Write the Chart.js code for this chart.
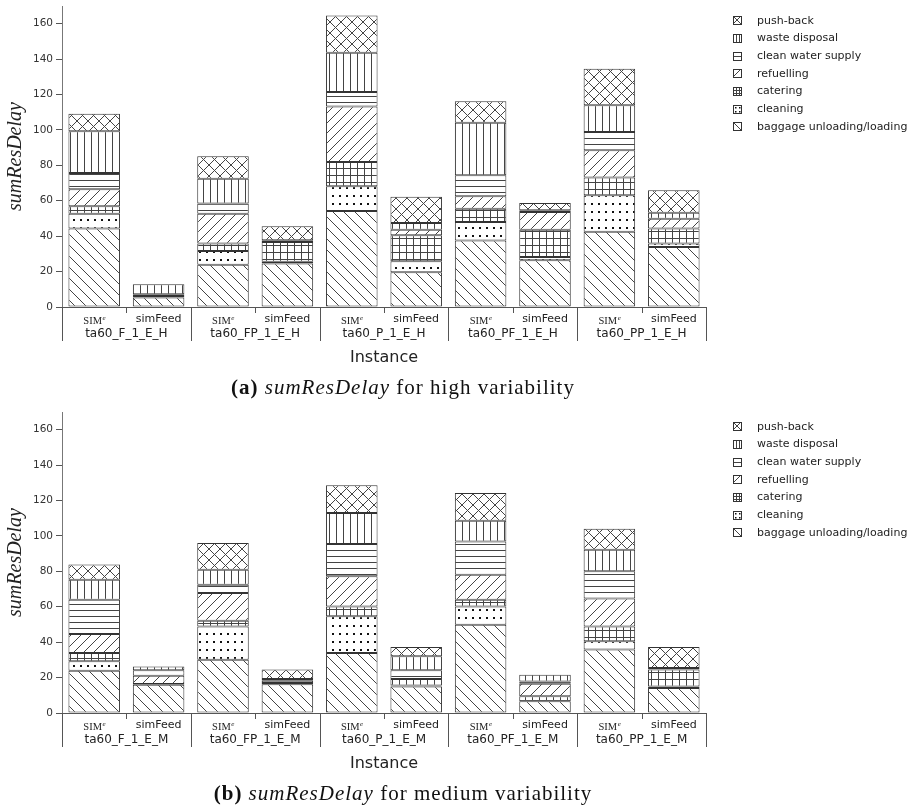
<!DOCTYPE html>
<html>
<head>
<meta charset="utf-8">
<script src="https://cdn.jsdelivr.net/npm/chart.js@4.4.0/dist/chart.umd.min.js"></script>
<style>
  body { margin: 0; background: #fff; }
  canvas { position: absolute; left: 0; }
  #chartHigh { top: 0; }
  #chartMedium { top: 406px; }
</style>
</head>
<body>
<canvas id="chartHigh" width="916" height="404"></canvas>
<canvas id="chartMedium" width="916" height="404"></canvas>
<script>
const instancesHigh = ["ta60_F_1_E_H", "ta60_FP_1_E_H", "ta60_P_1_E_H", "ta60_PF_1_E_H", "ta60_PP_1_E_H"];
const instancesMedium = ["ta60_F_1_E_M", "ta60_FP_1_E_M", "ta60_P_1_E_M", "ta60_PF_1_E_M", "ta60_PP_1_E_M"];
const methods = ["SIM", "simFeed"];
const activities = ["baggage unloading/loading", "cleaning", "catering", "refuelling", "clean water supply", "waste disposal", "push-back"];
const yMax = 170;
const yStep = 20;

// one value per bar: SIM^e, simFeed for each instance
const highBaggage = [44.3, 5.3, 23.9, 24.5, 54.2, 19.6, 37.6, 26.4, 42.5, 33.9];
const highCleaning = [8.4, 0, 7.7, 1.0, 14.0, 6.2, 10.4, 1.8, 20.6, 1.9];
const highCatering = [4.2, 0.9, 4.2, 11.2, 13.7, 14.7, 7.5, 15.5, 10.0, 8.5];
const highRefuelling = [9.6, 0, 16.9, 0, 31.4, 3.2, 7.0, 9.9, 15.4, 5.6];
const highCleanWater = [9.2, 1.0, 5.7, 1.0, 8.1, 0, 11.9, 1.0, 10.3, 0];
const highWaste = [23.5, 5.6, 14.1, 0, 22.2, 3.7, 29.7, 0, 15.1, 3.4];
const highPushBack = [10.0, 0, 12.6, 7.9, 21.1, 14.9, 12.1, 4.1, 20.7, 12.6];

const mediumBaggage = [23.9, 16.0, 30.1, 16.2, 33.9, 15.0, 49.9, 6.6, 35.8, 14.1];
const mediumCleaning = [5.3, 0, 18.8, 0, 20.7, 0.5, 10.3, 0, 4.7, 0.9];
const mediumCatering = [4.7, 0.4, 3.2, 0.8, 5.6, 3.7, 3.8, 2.8, 8.4, 9.5];
const mediumRefuelling = [10.7, 4.7, 15.7, 0, 17.0, 0, 14.1, 7.1, 15.7, 0];
const mediumCleanWater = [19.4, 3.0, 4.7, 1.2, 18.2, 4.9, 18.8, 1.3, 15.4, 0.9];
const mediumWaste = [11.3, 2.2, 8.4, 1.0, 17.5, 7.9, 11.7, 3.8, 12.2, 0];
const mediumPushBack = [8.5, 0, 15.1, 5.3, 15.7, 5.3, 15.6, 0, 11.9, 11.9];

function makePattern(w, h, draw) {
  const c = document.createElement("canvas");
  c.width = w;
  c.height = h;
  const g = c.getContext("2d");
  g.fillStyle = "#fff";
  g.fillRect(0, 0, w, h);
  g.strokeStyle = "#444";
  g.fillStyle = "#111";
  g.lineWidth = 1;
  g.beginPath();
  draw(g, w, h);
  g.stroke();
  return g.createPattern(c, "repeat");
}

function diagDown(g, s) {
  g.moveTo(-1, -1); g.lineTo(s + 1, s + 1);
  g.moveTo(-1, s - 1); g.lineTo(1, s + 1);
  g.moveTo(s - 1, -1); g.lineTo(s + 1, 1);
}

function diagUp(g, s) {
  g.moveTo(-1, s + 1); g.lineTo(s + 1, -1);
  g.moveTo(-1, 1); g.lineTo(1, -1);
  g.moveTo(s - 1, s + 1); g.lineTo(s + 1, s - 1);
}

const patterns = [
  makePattern(11, 11, (g, w) => diagDown(g, w)),
  makePattern(7, 8, (g) => g.fillRect(3, 3, 2, 2)),
  makePattern(7, 7, (g) => { g.moveTo(0.5, 0); g.lineTo(0.5, 7); g.moveTo(0, 0.5); g.lineTo(7, 0.5); }),
  makePattern(10, 10, (g, w) => diagUp(g, w)),
  makePattern(8, 6, (g) => { g.moveTo(0, 0.5); g.lineTo(8, 0.5); }),
  makePattern(7, 8, (g) => { g.moveTo(0.5, 0); g.lineTo(0.5, 8); }),
  makePattern(11, 11, (g, w) => { diagDown(g, w); diagUp(g, w); })
];

// smaller versions of the same hatches for the 9px legend boxes
const iconPatterns = [
  makePattern(8, 8, (g, w) => diagDown(g, w)),
  makePattern(4, 4, (g) => g.fillRect(2, 2, 1.5, 1.5)),
  makePattern(3, 3, (g) => { g.moveTo(0.5, 0); g.lineTo(0.5, 3); g.moveTo(0, 0.5); g.lineTo(3, 0.5); }),
  makePattern(8, 8, (g, w) => diagUp(g, w)),
  makePattern(8, 4, (g) => { g.moveTo(0, 0.5); g.lineTo(8, 0.5); }),
  makePattern(3, 8, (g) => { g.moveTo(0.5, 0); g.lineTo(0.5, 8); }),
  makePattern(8, 8, (g, w) => { diagDown(g, w); diagUp(g, w); })
];

const barLabels = {
  id: "barLabels",
  afterDraw(chart) {
    const { ctx, chartArea, scales: { x } } = chart;
    const base = chartArea.bottom;
    const slot = x.getPixelForValue(1) - x.getPixelForValue(0);
    ctx.save();
    ctx.strokeStyle = "#555";
    ctx.lineWidth = 1;
    ctx.beginPath();
    for (let i = 0; i <= chart.data.labels.length; i++) {
      const bx = Math.round(x.getPixelForValue(i) - slot / 2) + 0.5;
      ctx.moveTo(bx, base);
      ctx.lineTo(bx, base + (i % 2 === 0 ? 34 : 6));
    }
    ctx.stroke();

    ctx.fillStyle = "#222";
    chart.data.labels.forEach(([method, instance], i) => {
      const cx = x.getPixelForValue(i);
      if (method === "SIM") {
        ctx.font = "10.5px 'Liberation Serif'";
        const w1 = ctx.measureText("SIM").width;
        ctx.font = "italic 7px 'Liberation Serif'";
        const w2 = ctx.measureText("e").width;
        const left = cx - (w1 + w2) / 2;
        ctx.textAlign = "left";
        ctx.textBaseline = "alphabetic";
        ctx.font = "10.5px 'Liberation Serif'";
        ctx.fillText("SIM", left, base + 16.5);
        ctx.font = "italic 7px 'Liberation Serif'";
        ctx.fillText("e", left + w1 + 0.5, base + 12.5);
      } else {
        ctx.font = "11px 'DejaVu Sans'";
        ctx.textAlign = "center";
        ctx.textBaseline = "alphabetic";
        ctx.fillText(method, cx, base + 15);
        const gx = (x.getPixelForValue(i - 1) + cx) / 2;
        ctx.font = "12px 'DejaVu Sans'";
        ctx.fillText(instance, gx, base + 29.5);
      }
    });
    ctx.restore();
  }
};

const sideLegend = {
  id: "sideLegend",
  afterDraw(chart) {
    const { ctx } = chart;
    const n = chart.data.datasets.length;
    ctx.save();
    ctx.font = "11px 'DejaVu Sans'";
    ctx.textAlign = "left";
    ctx.textBaseline = "middle";
    for (let k = 0; k < n; k++) {
      const idx = n - 1 - k;
      const ds = chart.data.datasets[idx];
      const y = 20.7 + k * 17.7;
      ctx.save();
      ctx.translate(733, Math.round(y - 4.5));
      ctx.fillStyle = iconPatterns[idx];
      ctx.fillRect(0, 0, 9, 9);
      ctx.strokeStyle = "#333";
      ctx.lineWidth = 1;
      ctx.strokeRect(0.5, 0.5, 8, 8);
      ctx.restore();
      ctx.fillStyle = "#222";
      ctx.fillText(ds.label, 757, y);
    }
    ctx.restore();
  }
};

const caption = {
  id: "caption",
  afterDraw(chart, args, opts) {
    const { ctx } = chart;
    const parts = [
      ["bold 21px 'Liberation Serif'", opts.tag + " "],
      ["italic 21px 'Liberation Serif'", "sumResDelay"],
      ["21px 'Liberation Serif'", opts.text]
    ];
    ctx.save();
    if ("letterSpacing" in ctx) ctx.letterSpacing = "1px";
    ctx.fillStyle = "#111";
    ctx.textAlign = "left";
    ctx.textBaseline = "alphabetic";
    let total = 0;
    parts.forEach(([font, t]) => { ctx.font = font; total += ctx.measureText(t).width; });
    let cx = 403 - total / 2;
    parts.forEach(([font, t]) => {
      ctx.font = font;
      ctx.fillText(t, cx, 394);
      cx += ctx.measureText(t).width;
    });
    ctx.restore();
  }
};

function buildChart(id, instances, series, tag, text) {
  const labels = instances.flatMap((inst) => methods.map((m) => [m, inst]));
  return new Chart(document.getElementById(id), {
    type: "bar",
    data: {
      labels: labels,
      datasets: activities.map((name, i) => ({
        label: name,
        data: series[i],
        backgroundColor: patterns[i],
        borderColor: "#333",
        borderWidth: 1,
        borderSkipped: false,
        categoryPercentage: 1,
        barPercentage: 0.8
      }))
    },
    options: {
      responsive: false,
      animation: false,
      devicePixelRatio: 1,
      layout: { padding: { top: 6, right: 210, bottom: 0, left: 0 } },
      plugins: {
        legend: { display: false },
        tooltip: { enabled: false },
        caption: { tag: tag, text: text }
      },
      scales: {
        x: {
          stacked: true,
          grid: { display: true, drawOnChartArea: false, drawTicks: false },
          border: { display: true, color: "#555" },
          ticks: { display: false },
          title: {
            display: true,
            text: "Instance",
            color: "#222",
            font: { family: "DejaVu Sans", size: 16 },
            padding: { top: 0, bottom: 36.4 }
          },
          afterFit(scale) {
            scale.height = 97;
            scale.paddingLeft = 0;
            scale.paddingRight = 0;
          }
        },
        y: {
          stacked: true,
          min: 0,
          max: yMax,
          grid: { drawOnChartArea: false, drawTicks: true, tickLength: 6, color: "#555" },
          border: { display: true, color: "#777" },
          ticks: {
            stepSize: yStep,
            includeBounds: false,
            color: "#333",
            padding: 3,
            font: { family: "DejaVu Sans", size: 10.5 }
          },
          title: {
            display: true,
            text: "sumResDelay",
            color: "#222",
            font: { family: "Liberation Serif", style: "italic", size: 20 },
            padding: { top: 4, bottom: 0 }
          },
          afterFit(scale) {
            scale.width = 62;
            scale.paddingTop = 0;
            scale.paddingBottom = 0;
          }
        }
      }
    },
    plugins: [barLabels, sideLegend, caption]
  });
}

buildChart("chartHigh", instancesHigh,
  [highBaggage, highCleaning, highCatering, highRefuelling, highCleanWater, highWaste, highPushBack],
  "(a)", " for high variability");
buildChart("chartMedium", instancesMedium,
  [mediumBaggage, mediumCleaning, mediumCatering, mediumRefuelling, mediumCleanWater, mediumWaste, mediumPushBack],
  "(b)", " for medium variability");
</script>
</body>
</html>
